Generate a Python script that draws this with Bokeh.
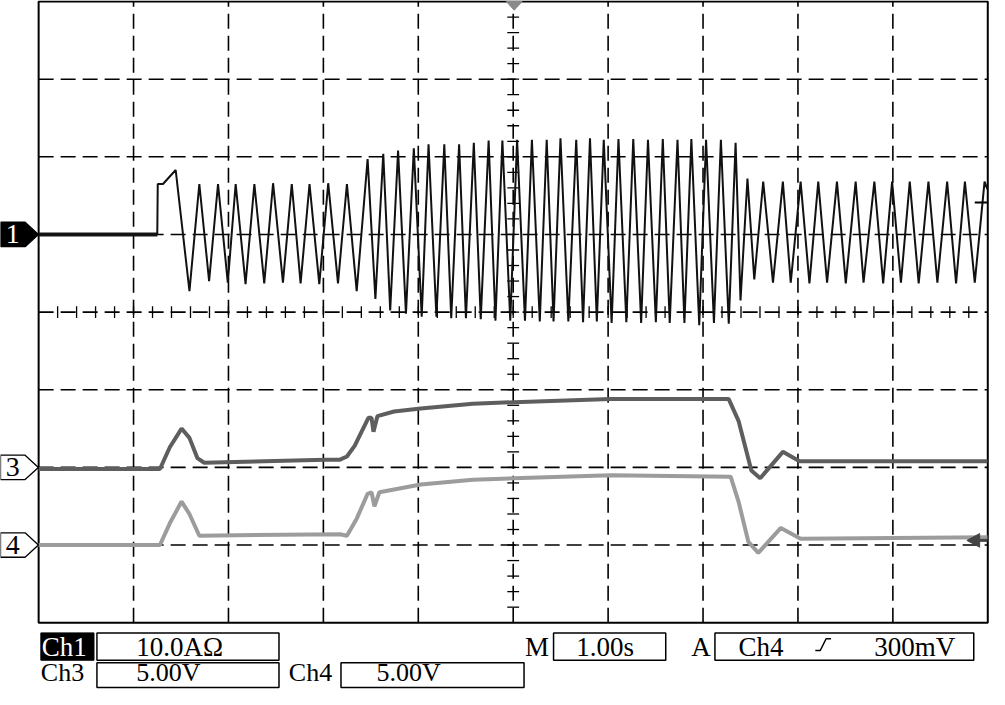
from bokeh.plotting import figure
from bokeh.models import Range1d
from bokeh.core.properties import value
from bokeh.embed import file_html
from bokeh.resources import INLINE

# Ch1: current, turning points of the waveform (time in s, current in A)
ch1_t = [-5.00, -3.75, -3.745, -3.69, -3.556, -3.411,
         -3.307, -3.204, -3.110, -3.007, -2.924, -2.820, -2.727, -2.623, -2.530,
         -2.426, -2.333, -2.240, -2.146, -2.043, -1.949, -1.846, -1.752, -1.649,
         -1.534, -1.452, -1.369, -1.296, -1.213, -1.130, -1.047, -0.964, -0.892,
         -0.809, -0.726, -0.653, -0.570, -0.498, -0.415, -0.342, -0.259, -0.187,
         -0.114, -0.031, 0.041, 0.124, 0.197, 0.280, 0.353, 0.425, 0.498, 0.581,
         0.664, 0.736, 0.809, 0.881, 0.954, 1.037, 1.109, 1.192, 1.265, 1.348,
         1.420, 1.503, 1.576, 1.649, 1.731, 1.804, 1.877, 1.960, 2.032, 2.115,
         2.188, 2.271, 2.343, 2.395,
         2.468, 2.540, 2.634, 2.737, 2.841, 2.924, 3.028, 3.121, 3.214, 3.307,
         3.411, 3.504, 3.608, 3.691, 3.805, 3.898, 3.992, 4.085, 4.178, 4.272,
         4.375, 4.469, 4.572, 4.666, 4.759, 4.863, 4.966, 4.997]
ch1_i = [0.0, 0.0, 6.5, 6.5, 8.3, -7.3,
         6.5, -6.0, 6.5, -6.2, 6.5, -6.4, 6.5, -6.3, 6.6,
         -6.2, 6.5, -6.3, 6.5, -6.4, 6.6, -6.3, 6.5, -7.3,
         9.7, -8.3, 10.4, -9.8, 10.8, -10.2, 11.1, -10.6, 11.6,
         -10.6, 11.6, -10.8, 11.6, -10.8, 11.8, -10.9, 12.1, -11.1,
         12.1, -11.1, 12.2, -11.1, 12.2, -11.2, 12.2, -11.2, 12.4, -11.2,
         12.2, -11.3, 12.4, -11.2, 12.2, -11.4, 12.3, -11.3, 12.3, -11.4,
         12.2, -11.3, 12.3, -11.4, 12.2, -11.4, 12.3, -11.7, 12.2, -11.4,
         12.2, -11.5, 11.8, -8.5,
         7.2, -5.8, 6.8, -6.2, 6.8, -6.2, 6.8, -6.3, 6.8, -6.2,
         6.8, -6.3, 6.8, -6.2, 6.8, -6.3, 6.8, -6.2, 6.8, -6.3,
         6.8, -6.2, 6.8, -6.3, 6.8, -6.2, 6.8, 5.8]

# Ch3: voltage (V)
ch3_t = [-5.00, -3.722, -3.618, -3.494, -3.411, -3.328, -3.255, -1.980, -1.825,
         -1.752, -1.669, -1.597, -1.524, -1.493, -1.472, -1.431, -1.255, -0.975,
         -0.425, 0.010, 1.026, 2.271, 2.374, 2.509, 2.602, 2.841, 3.017, 4.997]
ch3_v = [-0.1, -0.1, 1.3, 2.5, 1.9, 0.6, 0.3, 0.5, 0.5,
         0.7, 1.4, 2.3, 3.2, 3.2, 2.3, 3.3, 3.6, 3.8,
         4.1, 4.2, 4.4, 4.4, 3.0, -0.2, -0.7, 1.0, 0.4, 0.4]

# Ch4: voltage (V)
ch4_t = [-5.00, -3.722, -3.618, -3.494, -3.411, -3.307, -1.825, -1.752, -1.649,
         -1.534, -1.493, -1.462, -1.410, -0.975, -0.425, 0.010, 1.026, 2.291,
         2.374, 2.478, 2.582, 2.820, 3.028, 4.997]
ch4_v = [0.0, 0.0, 1.4, 2.8, 2.0, 0.6, 0.7, 0.6, 1.7,
         3.3, 3.4, 2.5, 3.4, 3.9, 4.2, 4.3, 4.5, 4.4,
         2.8, 0.2, -0.5, 1.1, 0.4, 0.5]

# scope settings / readout texts
ch1_scale, ch3_scale, ch4_scale = 10.0, 5.0, 5.0   # per division
ch1_pos, ch3_pos, ch4_pos = 1.0, -2.0, -3.0        # divisions
trig_level = 0.3                                    # V on Ch4
readout_row1 = ["10.0AΩ", "1.00s", "Ch4", "300mV"]
readout_row2 = ["5.00V", "5.00V"]

# ---------------- geometry helpers (reference pixels -> divisions) ----------------
W, H = 989, 689
REF_W, REF_H = 1005, 705
PXX, CX = 96.45, 521.0
PXY, CY = 79.56, 318.3


def X(px):
    return (px - CX) / PXX


def Y(py):
    return (CY - py) / PXY


FONT = value("Liberation Serif")
FS = value("27px")
FS2 = value("26px")

p = figure(width=W, height=H,
           x_range=Range1d(X(0), X(REF_W)), y_range=Range1d(Y(REF_H), Y(-1)),
           x_axis_type=None, y_axis_type=None, toolbar_location=None,
           output_backend="svg", min_border=0, outline_line_color=None,
           background_fill_color="white", border_fill_color="white")

# ---------------- graticule ----------------
vx = [k for k in range(-4, 5)]
p.multi_line(xs=[[k, k] for k in vx], ys=[[-4, 4]] * len(vx),
             line_color="black", line_width=1.6, line_dash="15 7")
hy = [k for k in range(-3, 4)]
p.multi_line(xs=[[-5, 5]] * len(hy), ys=[[k, k] for k in hy],
             line_color="black", line_width=1.6, line_dash="15 7")
# minor ticks on the center lines
tx = [-5 + 0.2 * k for k in range(1, 50)]
th = 6.0 / PXY
p.segment(x0=tx, y0=[-th] * len(tx), x1=tx, y1=[th] * len(tx), line_color="black", line_width=1.3)
ty = [-4 + 0.2 * k for k in range(1, 40)]
tw = 6.0 / PXX
p.segment(x0=[-tw] * len(ty), y0=ty, x1=[tw] * len(ty), y1=ty, line_color="black", line_width=1.3)
# outer border
p.quad(left=[-5], right=[5], bottom=[-4], top=[4], fill_color=None,
       line_color="black", line_width=2)

# ---------------- traces ----------------
p.line(ch3_t, [ch3_pos + v / ch3_scale for v in ch3_v], line_color="#5e5e5e", line_width=4)
p.line(ch4_t, [ch4_pos + v / ch4_scale for v in ch4_v], line_color="#9c9c9c", line_width=4)
ch1_y = [ch1_pos + i / ch1_scale for i in ch1_i]
p.line(ch1_t[:2], ch1_y[:2], line_color="#1a1a1a", line_width=4)
p.line(ch1_t, ch1_y, line_color="#111111", line_width=2)

# ---------------- channel markers ----------------
hh = 12.5 / PXY
mx = [X(0), X(25), X(38.5), X(25), X(0)]
for lvl, fill, tcol, lab in [(ch1_pos, "black", "white", "1"),
                             (ch3_pos, "white", "black", "3"),
                             (ch4_pos, "white", "black", "4")]:
    p.patch(mx, [lvl + hh, lvl + hh, lvl, lvl - hh, lvl - hh],
            fill_color=fill, line_color="black", line_width=1.3)
    p.text(x=[X(12.5)], y=[lvl], text=[lab], text_font=FONT, text_font_size=value("28px"),
           text_color=tcol, text_align="center", text_baseline="middle")

# trigger level arrow (right edge) and trigger position marker (top)
tl = ch4_pos + trig_level / ch4_scale
ah = 7.0 / PXY
p.patch([X(982), X(995), X(995)], [tl, tl + ah, tl - ah], fill_color="#444444", line_color="#444444")
p.segment(x0=[X(995)], y0=[tl], x1=[X(1003)], y1=[tl], line_color="#444444", line_width=3)
p.patch([X(514), X(530), X(522)], [4, 4, Y(9)], fill_color="#8a8a8a", line_color="#8a8a8a")
p.segment(x0=[X(990)], y0=[Y(206)], x1=[X(1003)], y1=[Y(206)], line_color="black", line_width=2)

# ---------------- readout panel ----------------
r1t, r1b = Y(647), Y(675)
r2t, r2b = Y(677.5), Y(703)
p.quad(left=[X(41)], right=[X(95)], top=[r1t], bottom=[r1b], fill_color="black", line_color="black")
p.quad(left=[X(98), X(562), X(726), X(98), X(346)],
       right=[X(283), X(676), X(989), X(283), X(532)],
       top=[r1t, r1t, r1t, r2t, r2t], bottom=[r1b, r1b, r1b, r2b, r2b],
       fill_color=None, line_color="black", line_width=1.5)
r1 = Y(661)
r2 = Y(688)
p.text(x=[X(42)], y=[r1], text=["Ch1"], text_font=FONT, text_font_size=FS,
       text_color="white", text_align="left", text_baseline="middle")
p.text(x=[X(138), X(533), X(585), X(702), X(750), X(888)],
       y=[r1] * 6,
       text=[readout_row1[0], "M", readout_row1[1], "A", readout_row1[2], readout_row1[3]],
       text_font=FONT, text_font_size=FS, text_color="black",
       text_align="left", text_baseline="middle")
p.text(x=[X(41), X(138), X(293), X(382)], y=[r2] * 4,
       text=["Ch3", readout_row2[0], "Ch4", readout_row2[1]],
       text_font=FONT, text_font_size=FS2, text_color="black",
       text_align="left", text_baseline="middle")
# rising-edge slope symbol
p.line([X(828), X(833), X(839), X(844)], [Y(665), Y(665), Y(653), Y(653)],
       line_color="black", line_width=1.5)

open("out.html", "w").write(file_html(p, INLINE))
